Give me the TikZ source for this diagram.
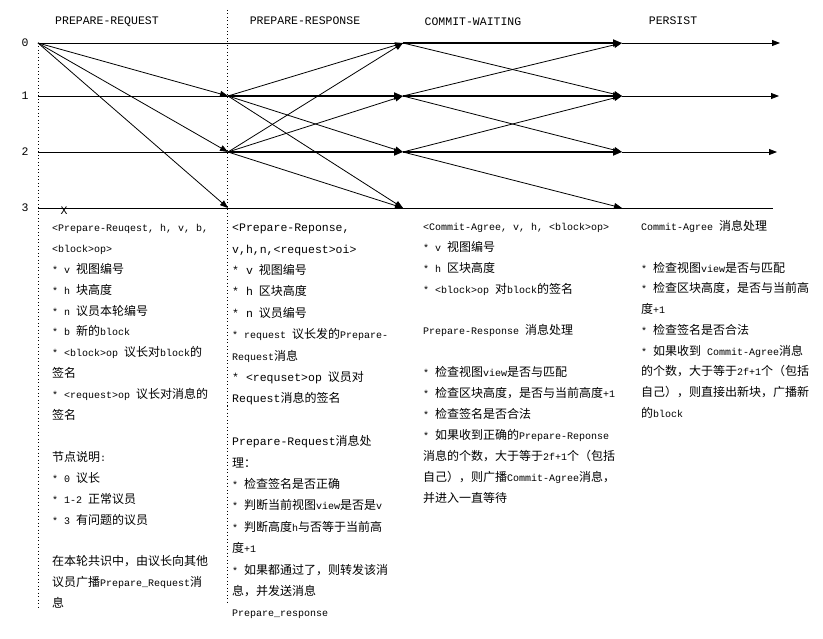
\documentclass[tikz,border=0pt]{standalone}
\usepackage{fontspec}
\setmainfont{Liberation Mono}
\newfontfamily\zhfont[Scale=1.2]{Noto Sans CJK SC}
\usetikzlibrary{arrows.meta}
\newcommand{\zh}[1]{{\zhfont #1}}
\newcommand{\wlat}[1]{{\fontsize{11.5}{21.4}\selectfont #1}}

\begin{document}
\begin{tikzpicture}[x=1pt,y=-1pt,
    rowline/.style={line width=0.8pt},
    msg/.style={line width=0.8pt,-{Triangle[length=8pt,width=6pt]}},
    selfmsg/.style={line width=1.8pt,-{Triangle[length=9pt,width=7pt]}},
    phaseline/.style={line width=0.6pt,dash pattern=on 1pt off 2.5pt},
    head/.style={font=\fontsize{11.5}{14}\selectfont},
    note/.style={anchor=north west,inner sep=0pt,align=left}]

  \useasboundingbox (0,0) rectangle (823,639);

  % phase titles
  \node[head] (hreq) at (107,22) {PREPARE-REQUEST};
  \node[head] (hres) at (305,21) {PREPARE-RESPONSE};
  \node[head] (hcom) at (473,22) {COMMIT-WAITING};
  \node[head] (hper) at (673,21) {PERSIST};

  % node rows and phase points
  \foreach \r/\y in {0/43,1/96,2/152,3/208}{
    \node[head] (lab\r) at (25,\y) {\r};
    \foreach \c/\x in {0/38,1/228,2/403,3/622}
      \coordinate (p\r\c) at (\x,\y);
  }
  \coordinate (e0) at (780,43);
  \coordinate (e1) at (779,96);
  \coordinate (e2) at (777,152);
  \coordinate (e3) at (773,208);

  % phase borders
  \coordinate (d0a) at (38,43);
  \coordinate (d0b) at (38,610);
  \coordinate (d1a) at (227,10);
  \coordinate (d1b) at (227,602);
  \draw[phaseline] (d0a) -- (d0b);
  \draw[phaseline] (d1a) -- (d1b);

  % time lines
  \draw[rowline] (p00) -- (p02);
  \draw[rowline] (p10) -- (p11);
  \draw[rowline] (p20) -- (p21);
  \draw[rowline] (p30) -- (e3);
  \draw[selfmsg] (p11) -- (p12);
  \draw[selfmsg] (p21) -- (p22);
  \draw[selfmsg] (p02) -- (p03);
  \draw[selfmsg] (p12) -- (p13);
  \draw[selfmsg] (p22) -- (p23);
  \draw[msg] (p03) -- (e0);
  \draw[msg] (p13) -- (e1);
  \draw[msg] (p23) -- (e2);

  % prepare-request
  \draw[msg] (p00) -- (p11);
  \draw[msg] (p00) -- (p21);
  \draw[msg] (p00) -- (p31);

  % prepare-response
  \draw[msg] (p11) -- (p02);
  \draw[msg] (p11) -- (p22);
  \draw[msg] (p11) -- (p32);
  \draw[msg] (p21) -- (p02);
  \draw[msg] (p21) -- (p12);
  \draw[msg] (p21) -- (p32);

  % commit-agree
  \draw[msg] (p02) -- (p13);
  \draw[msg] (p12) -- (p03);
  \draw[msg] (p12) -- (p23);
  \draw[msg] (p22) -- (p13);
  \draw[msg] (p22) -- (p33);

  \node[font=\fontsize{11.5}{14}\selectfont] (fail) at (64,211) {X};

  % notes
  \node[note,font=\fontsize{10}{20.9}\selectfont] (reqtext) at (52,224) {%
    <Prepare-Reuqest, h, v, b,\\
    <block>op>\\
    * v \zh{视图编号}\\
    * h \zh{块高度}\\
    * n \zh{议员本轮编号}\\
    * b \zh{新的}block\\
    * <block>op \zh{议长对}block\zh{的}\\
    \zh{签名}\\
    * <request>op \zh{议长对消息的}\\
    \zh{签名}\\
    \mbox{}\\
    \zh{节点说明}:\\
    * 0 \zh{议长}\\
    * 1-2 \zh{正常议员}\\
    * 3 \zh{有问题的议员}\\
    \mbox{}\\
    \zh{在本轮共识中，由议长向其他}\\
    \zh{议员广播}Prepare\_Request\zh{消}\\
    \zh{息}};

  \node[note,font=\fontsize{10}{21.4}\selectfont] (restext) at (232,224) {%
    \wlat{<Prepare-Reponse,}\\
    \wlat{v,h,n,<request>oi>}\\
    \wlat{* v} \zh{视图编号}\\
    \wlat{* h} \zh{区块高度}\\
    \wlat{* n} \zh{议员编号}\\
    * request \zh{议长发的}Prepare-\\
    Request\zh{消息}\\
    \wlat{* <requset>op} \zh{议员对}\\
    \wlat{Request}\zh{消息的签名}\\
    \mbox{}\\
    \wlat{Prepare-Request}\zh{消息处}\\
    \zh{理：}\\
    * \zh{检查签名是否正确}\\
    * \zh{判断当前视图}view\zh{是否是}v\\
    * \zh{判断高度}h\zh{与否等于当前高}\\
    \zh{度}+1\\
    * \zh{如果都通过了，则转发该消}\\
    \zh{息，并发送消息}\\
    Prepare\_response};

  \node[note,font=\fontsize{10}{20.9}\selectfont] (comtext) at (423,223) {%
    <Commit-Agree, v, h, <block>op>\\
    * v \zh{视图编号}\\
    * h \zh{区块高度}\\
    * <block>op \zh{对}block\zh{的签名}\\
    \mbox{}\\
    Prepare-Response \zh{消息处理}\\
    \mbox{}\\
    * \zh{检查视图}view\zh{是否与匹配}\\
    * \zh{检查区块高度，是否与当前高度}+1\\
    * \zh{检查签名是否合法}\\
    * \zh{如果收到正确的}Prepare-Reponse\\
    \zh{消息的个数，大于等于}2f+1\zh{个（包括}\\
    \zh{自己），则广播}Commit-Agree\zh{消息，}\\
    \zh{并进入一直等待}};

  \node[note,font=\fontsize{10}{20.8}\selectfont] (pertext) at (641,220) {%
    Commit-Agree \zh{消息处理}\\
    \mbox{}\\
    * \zh{检查视图}view\zh{是否与匹配}\\
    * \zh{检查区块高度，是否与当前高}\\
    \zh{度}+1\\
    * \zh{检查签名是否合法}\\
    * \zh{如果收到} Commit-Agree\zh{消息}\\
    \zh{的个数，大于等于}2f+1\zh{个（包括}\\
    \zh{自己），则直接出新块，广播新}\\
    \zh{的}block};
\end{tikzpicture}
\end{document}
